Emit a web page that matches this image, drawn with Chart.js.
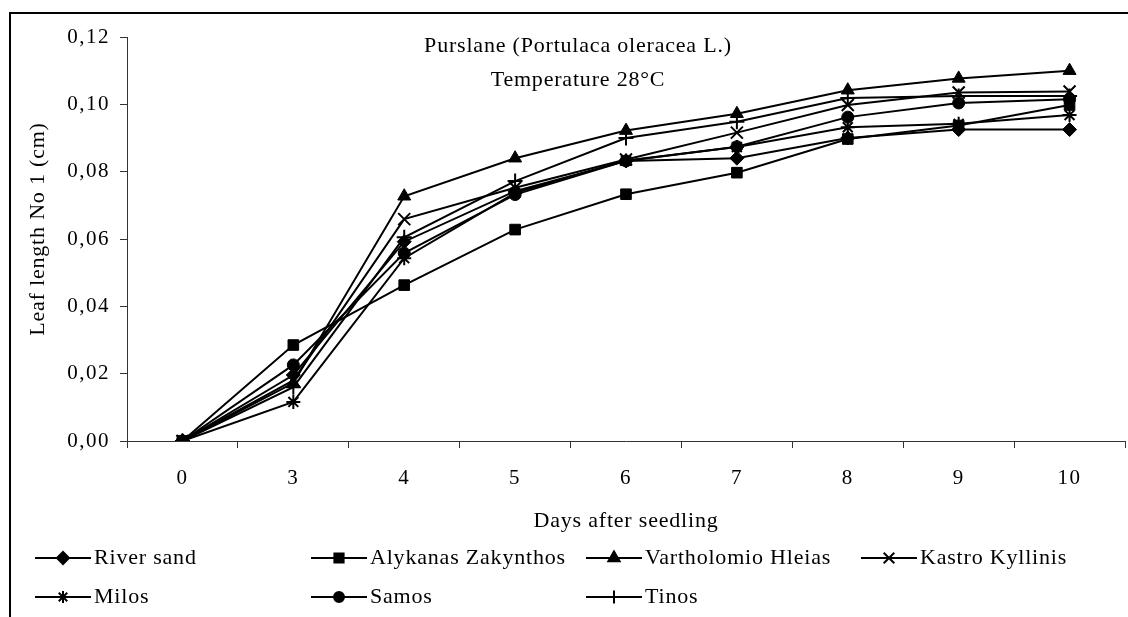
<!DOCTYPE html>
<html>
<head>
<meta charset="utf-8">
<script src="https://cdn.jsdelivr.net/npm/chart.js@4/dist/chart.umd.min.js"></script>
<style>
  html, body { margin: 0; padding: 0; background: #fff; }
  #wrap { width: 1128px; height: 617px; }
</style>
</head>
<body>
<div id="wrap"><canvas id="leafChart" width="1128" height="617"></canvas></div>
<script>
// Days after seedling (category axis)
const days = ["0", "3", "4", "5", "6", "7", "8", "9", "10"]

// Leaf length No 1 (cm) per substrate
const riverSand   = [0, 0.0196, 0.0592, 0.0742, 0.0832, 0.0840, 0.0900, 0.0925, 0.0925]
const alykanas    = [0, 0.0285, 0.0463, 0.0628, 0.0733, 0.0797, 0.0897, 0.0937, 0.0998]
const vartholomio = [0, 0.0172, 0.0727, 0.0840, 0.0922, 0.0972, 0.1042, 0.1077, 0.1100]
const kastro      = [0, 0.0180, 0.0659, 0.0752, 0.0836, 0.0916, 0.0998, 0.1035, 0.1038]
const milos       = [0, 0.0116, 0.0543, 0.0737, 0.0833, 0.0873, 0.0932, 0.0942, 0.0968]
const samos       = [0, 0.0226, 0.0558, 0.0732, 0.0832, 0.0874, 0.0962, 0.1004, 0.1015]
const tinos       = [0, 0.0160, 0.0605, 0.0772, 0.0900, 0.0948, 0.1019, 0.1025, 0.1025]

const yTicks = [0, 0.02, 0.04, 0.06, 0.08, 0.10, 0.12]

const FONT = '"Liberation Serif", "Times New Roman", serif'
const INK = "#000"

function series(label, data, pointStyle, radius, border) {
  return {
    label: label,
    data: data,
    borderColor: INK,
    borderWidth: 2,
    backgroundColor: INK,
    pointStyle: pointStyle,
    pointRadius: radius,
    pointBackgroundColor: INK,
    pointBorderColor: INK,
    pointBorderWidth: border,
    tension: 0,
  }
}

// Titles, legend and frame drawn straight on the canvas
const decorations = {
  id: "decorations",
  beforeDraw(chart) {
    chart.ctx.letterSpacing = "1.5px"
  },
  afterDraw(chart) {
    const ctx = chart.ctx
    ctx.save()
    ctx.letterSpacing = "0.8px"
    ctx.fillStyle = INK
    ctx.font = "22px " + FONT
    ctx.textAlign = "center"
    ctx.textBaseline = "middle"

    ctx.fillText("Purslane (Portulaca oleracea L.)", 578, 46)
    ctx.fillText("Temperature 28°C", 578, 80)

    ctx.fillText("Days after seedling", 626, 521)

    ctx.save()
    ctx.translate(38, 229)
    ctx.rotate(-Math.PI / 2)
    ctx.fillText("Leaf length No 1 (cm)", 0, 0)
    ctx.restore()

    // legend, four columns by two rows
    const cols = [35, 311, 586, 861]
    const rows = [558, 597]
    ctx.textAlign = "left"
    chart.data.datasets.forEach((ds, i) => {
      const x = cols[i % 4]
      const y = rows[Math.floor(i / 4)]
      ctx.strokeStyle = INK
      ctx.lineWidth = 2
      ctx.beginPath()
      ctx.moveTo(x, y)
      ctx.lineTo(x + 56, y)
      ctx.stroke()
      Chart.helpers.drawPoint(ctx, {
        pointStyle: ds.pointStyle,
        radius: ds.pointRadius - 1,
        borderWidth: ds.pointBorderWidth,
        rotation: 0,
      }, x + 28, y)
      ctx.fill()
      ctx.fillText(ds.label, x + 59, y)
    })

    // outer frame (left and top edges)
    ctx.strokeStyle = INK
    ctx.lineWidth = 2
    ctx.beginPath()
    ctx.moveTo(10, 617)
    ctx.lineTo(10, 13)
    ctx.lineTo(1128, 13)
    ctx.stroke()
    ctx.restore()
  },
}

new Chart(document.getElementById("leafChart"), {
  type: "line",
  data: {
    labels: days,
    datasets: [
      series("River sand", riverSand, "rectRot", 7, 1),
      series("Alykanas Zakynthos", alykanas, "rect", 7.5, 1),
      series("Vartholomio Hleias", vartholomio, "triangle", 7.5, 1),
      series("Kastro Kyllinis", kastro, "crossRot", 8.5, 2),
      series("Milos", milos, "star", 7, 2),
      series("Samos", samos, "circle", 6, 1),
      series("Tinos", tinos, "cross", 7.5, 2),
    ],
  },
  options: {
    responsive: false,
    animation: false,
    devicePixelRatio: 1,
    layout: { autoPadding: false, padding: { top: 37, right: 3, left: 0, bottom: 0 } },
    plugins: {
      legend: { display: false },
      tooltip: { enabled: false },
    },
    scales: {
      x: {
        offset: true,
        afterFit: (s) => {
          s.height = 176
          s.paddingLeft = 0
          s.paddingRight = 0
        },
        grid: { offset: true, drawOnChartArea: false, tickLength: 7, tickColor: "#333" },
        border: { color: "#333", width: 1 },
        ticks: { color: INK, padding: 18, font: { family: FONT, size: 21 } },
      },
      y: {
        min: 0,
        max: 0.12,
        afterFit: (s) => {
          s.width = 127
          s.paddingTop = 0
          s.paddingBottom = 0
        },
        afterBuildTicks: (s) => { s.ticks = yTicks.map((v) => ({ value: v })) },
        grid: { drawOnChartArea: false, tickLength: 7, tickColor: "#333" },
        border: { color: "#333", width: 1 },
        ticks: {
          color: INK,
          padding: 10,
          font: { family: FONT, size: 21 },
          callback: (v) => v.toFixed(2).replace(".", ","),
        },
      },
    },
  },
  plugins: [decorations],
})
</script>
</body>
</html>
